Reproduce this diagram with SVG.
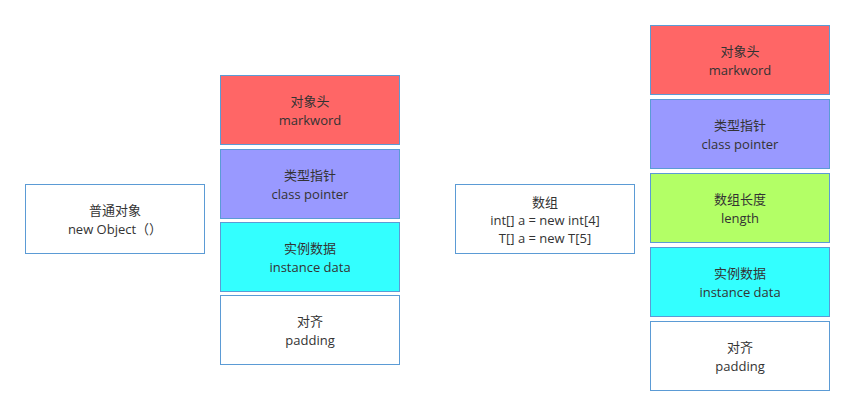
<svg xmlns="http://www.w3.org/2000/svg" width="855" height="416" viewBox="0 0 855 416">
<style>
rect{stroke:#5b9bd5;stroke-width:1}
text{font-family:"Open Sans","Noto Sans CJK SC",sans-serif;font-size:13px;fill:#333;text-anchor:middle}
</style>
<rect x="0" y="0" width="855" height="416" fill="#fff" style="stroke:none"/>
<g id="obj"><rect x="25.5" y="184.5" width="179" height="69" fill="#fff"/><text x="115" y="215">普通对象</text><text x="115" y="234">new Object（）</text></g>
<g id="l-head"><rect x="220.5" y="75.5" width="179" height="69" fill="#ff6666"/><text x="310" y="106">对象头</text><text x="310" y="125">markword</text></g>
<g id="l-cp"><rect x="220.5" y="149.5" width="179" height="69" fill="#9999ff"/><text x="310" y="180">类型指针</text><text x="310" y="199">class pointer</text></g>
<g id="l-data"><rect x="220.5" y="222.5" width="179" height="69" fill="#33ffff"/><text x="310" y="253">实例数据</text><text x="310" y="272">instance data</text></g>
<g id="l-pad"><rect x="220.5" y="295.5" width="179" height="69" fill="#fff"/><text x="310" y="326">对齐</text><text x="310" y="345">padding</text></g>
<g id="arr"><rect x="455.5" y="184.5" width="179" height="69" fill="#fff"/><text x="545" y="207">数组</text><text x="545" y="225">int[] a = new int[4]</text><text x="545" y="243">T[] a = new T[5]</text></g>
<g id="r-head"><rect x="650.5" y="25.5" width="179" height="69" fill="#ff6666"/><text x="740" y="56">对象头</text><text x="740" y="75">markword</text></g>
<g id="r-cp"><rect x="650.5" y="99.5" width="179" height="69" fill="#9999ff"/><text x="740" y="130">类型指针</text><text x="740" y="149">class pointer</text></g>
<g id="r-len"><rect x="650.5" y="173.5" width="179" height="69" fill="#b3ff66"/><text x="740" y="204">数组长度</text><text x="740" y="223">length</text></g>
<g id="r-data"><rect x="650.5" y="247.5" width="179" height="69" fill="#33ffff"/><text x="740" y="278">实例数据</text><text x="740" y="297">instance data</text></g>
<g id="r-pad"><rect x="650.5" y="321.5" width="179" height="69" fill="#fff"/><text x="740" y="352">对齐</text><text x="740" y="371">padding</text></g>
<g id="connectors"></g>
</svg>
